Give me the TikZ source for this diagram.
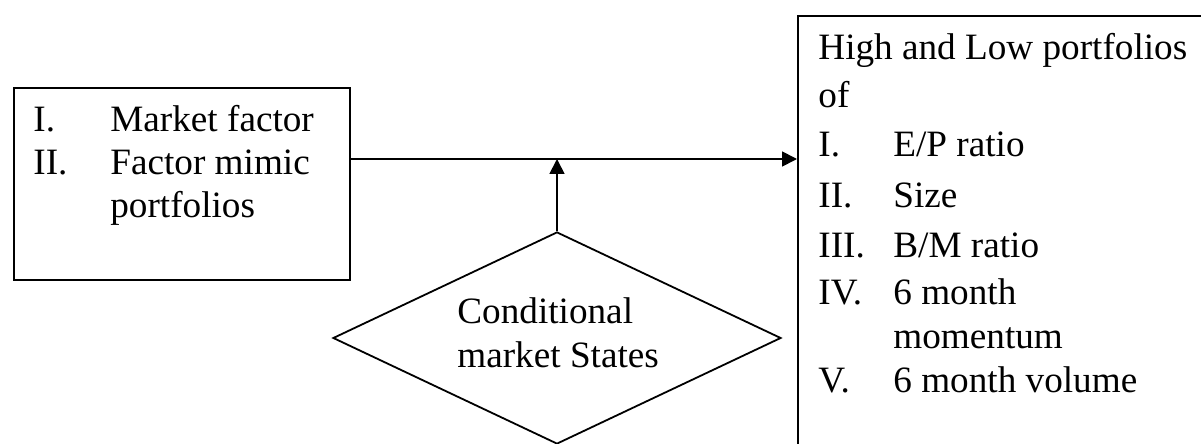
\documentclass[tikz,border=0pt]{standalone}
\usepackage{fontspec}
\setmainfont{Liberation Serif}
\usetikzlibrary{shapes.geometric,arrows.meta}
\begin{document}
\begin{tikzpicture}[x=0.5pt,y=-0.5pt,
  frame/.style={draw,line width=0.9pt,inner sep=0pt},
  txt/.style={inner sep=0pt,anchor=base west,font=\fontsize{18.6pt}{22pt}\selectfont},
  conn/.style={line width=0.9pt},
  arr/.style={conn,-{Triangle[length=7.5pt,width=7.5pt]}}]
\useasboundingbox (0,0) rectangle (1201,444);
\clip (0,0) rectangle (1201,444);
% left box
\node[frame,anchor=north west,minimum width=168pt,minimum height=96pt] (L) at (13,87) {};
\node[txt] (l1a) at (33,132) {I.};
\node[txt] (l1b) at (110,132) {Market factor};
\node[txt] (l2a) at (33,175) {II.};
\node[txt] (l2b) at (110,175) {Factor mimic};
\node[txt] (l2c) at (110,218) {portfolios};
% right box
\node[frame,anchor=north west,minimum width=220pt,minimum height=240pt] (R) at (797,15) {};
\node[txt] (r0) at (818,60) {High and Low portfolios};
\node[txt] (r0b) at (818,108) {of};
\node[txt] (r1a) at (818,157) {I.};
\node[txt] (r1b) at (893,157) {E/P ratio};
\node[txt] (r2a) at (818,207) {II.};
\node[txt] (r2b) at (893,207) {Size};
\node[txt] (r3a) at (818,257) {III.};
\node[txt] (r3b) at (893,257) {B/M ratio};
\node[txt] (r4a) at (818,305) {IV.};
\node[txt] (r4b) at (893,305) {6 month};
\node[txt] (r4c) at (893,348) {momentum};
\node[txt] (r5a) at (818,392) {V.};
\node[txt] (r5b) at (893,392) {6 month volume};
% diamond
\node[frame,diamond,minimum width=224pt,minimum height=106pt] (D) at (557,338) {};
\node[txt] (d1) at (457,323) {Conditional};
\node[txt] (d2) at (457,367) {market States};
% connectors
\coordinate (J) at (557,159);
\draw[arr] (L.east |- J) -- (R.west |- J);
\draw[arr] (D.north) -- (J);
\end{tikzpicture}
\end{document}
